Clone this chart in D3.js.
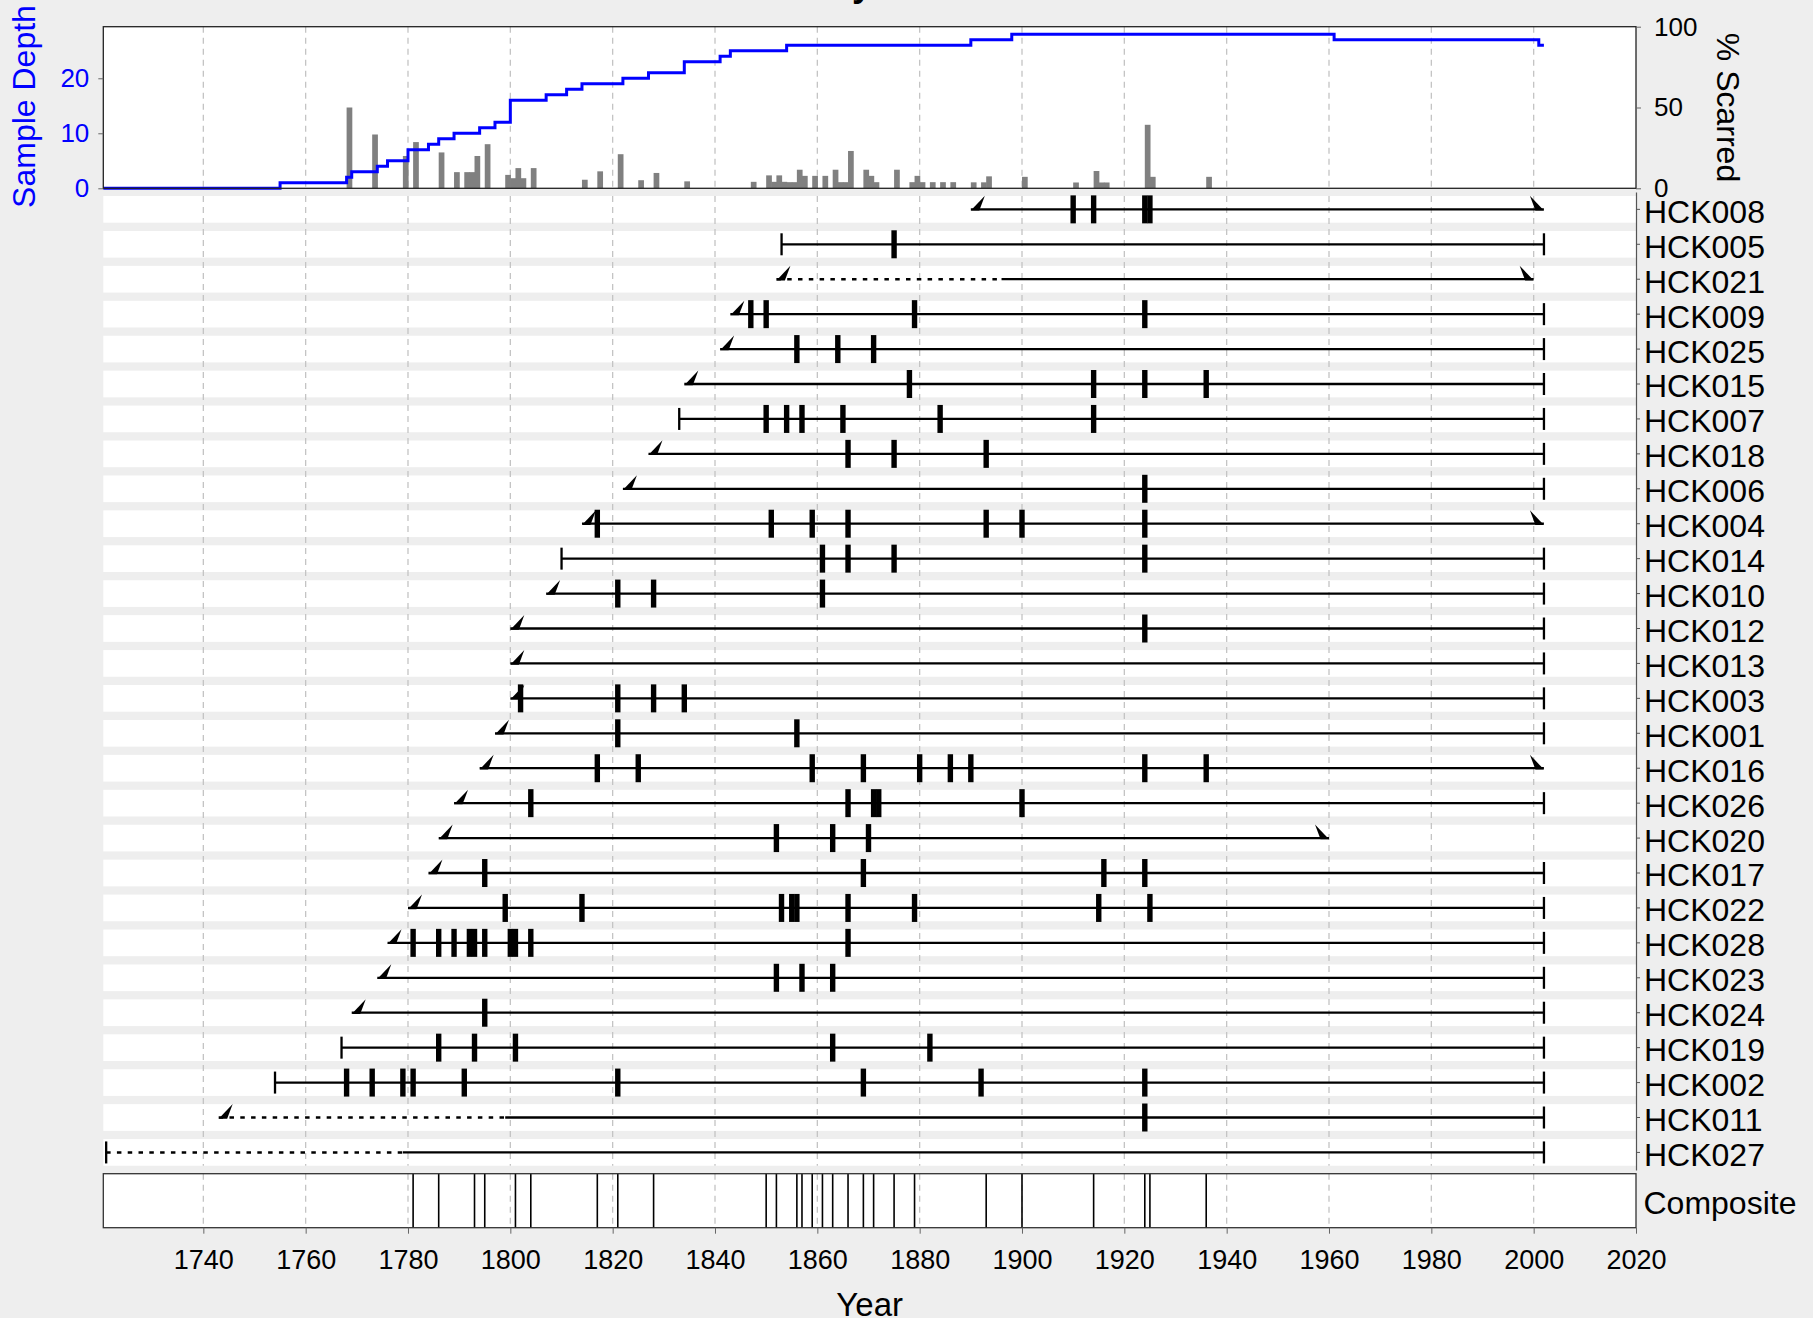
<!DOCTYPE html>
<html>
<head>
<meta charset="utf-8">
<script src="https://cdnjs.cloudflare.com/ajax/libs/d3/7.8.5/d3.min.js"></script>
<style>
  body { margin: 0; background: #eeeeee; }
  text { font-family: "Liberation Sans", Arial, sans-serif; }
</style>
</head>
<body>
<div id="chart"></div>
<script>
// series, top to bottom
var seriesNames = ["HCK008", "HCK005", "HCK021", "HCK009", "HCK025", "HCK015", "HCK007",
  "HCK018", "HCK006", "HCK004", "HCK014", "HCK010", "HCK012", "HCK013", "HCK003", "HCK001",
  "HCK016", "HCK026", "HCK020", "HCK017", "HCK022", "HCK028", "HCK023", "HCK024", "HCK019",
  "HCK002", "HCK011", "HCK027"];
var firstYears = [1890, 1853, 1852, 1843, 1841, 1834, 1833, 1827, 1822, 1814, 1810, 1807, 1800,
  1800, 1800, 1797, 1794, 1789, 1786, 1784, 1780, 1776, 1774, 1769, 1767, 1754, 1743, 1721];
var lastYears = [2002, 2002, 2000, 2002, 2002, 2002, 2002, 2002, 2002, 2002, 2002, 2002, 2002,
  2002, 2002, 2002, 2002, 2002, 1960, 2002, 2002, 2002, 2002, 2002, 2002, 2002, 2002, 2002];
// "slant" = pith / bark wedge, "bar" = inner / outer year
var firstTypes = ["slant", "bar", "slant", "slant", "slant", "slant", "bar", "slant", "slant",
  "slant", "bar", "slant", "slant", "slant", "slant", "slant", "slant", "slant", "slant", "slant",
  "slant", "slant", "slant", "slant", "bar", "bar", "slant", "bar"];
var lastTypes = ["slant", "bar", "slant", "bar", "bar", "bar", "bar", "bar", "bar", "slant", "bar",
  "bar", "bar", "bar", "bar", "bar", "slant", "bar", "slant", "bar", "bar", "bar", "bar", "bar",
  "bar", "bar", "bar", "bar"];
// end of the non-recording (dotted) part, null if none
var recorderStart = [null, null, 1896, null, null, null, null, null, null, null, null, null, null,
  null, null, null, null, null, null, null, null, null, null, null, null, null, 1799, 1779];
var scarYears = [
  [1910, 1914, 1924, 1925],
  [1875],
  [],
  [1847, 1850, 1879, 1924],
  [1856, 1864, 1871],
  [1878, 1914, 1924, 1936],
  [1850, 1854, 1857, 1865, 1884, 1914],
  [1866, 1875, 1893],
  [1924],
  [1817, 1851, 1859, 1866, 1893, 1900, 1924],
  [1861, 1866, 1875, 1924],
  [1821, 1828, 1861],
  [1924],
  [],
  [1802, 1821, 1828, 1834],
  [1821, 1856],
  [1817, 1825, 1859, 1869, 1880, 1886, 1890, 1924, 1936],
  [1804, 1866, 1871, 1872, 1900],
  [1852, 1863, 1870],
  [1795, 1869, 1916, 1924],
  [1799, 1814, 1853, 1855, 1856, 1866, 1879, 1915, 1925],
  [1781, 1786, 1789, 1792, 1793, 1795, 1800, 1801, 1804, 1866],
  [1852, 1857, 1863],
  [1795],
  [1786, 1793, 1801, 1863, 1882],
  [1768, 1773, 1779, 1781, 1791, 1821, 1869, 1892, 1924],
  [1924],
  []
];

// composite event years
var compositeYears = [1781, 1786, 1793, 1795, 1801, 1804, 1817, 1821, 1828, 1850, 1852, 1856,
  1857, 1859, 1861, 1863, 1866, 1869, 1871, 1875, 1879, 1893, 1900, 1914, 1924, 1925, 1936];

// sample depth steps (value holds from that year on)
var depthYears = [1721, 1755, 1768, 1769, 1774, 1776, 1780, 1784, 1786, 1789, 1794, 1797, 1800,
  1807, 1811, 1814, 1822, 1827, 1834, 1841, 1843, 1854, 1890, 1898, 1961, 2001, 2002];
var depthValues = [0, 1, 2, 3, 4, 5, 7, 8, 9, 10, 11, 12, 16, 17, 18, 19, 20, 21, 23, 24, 25, 26,
  27, 28, 27, 26, 26];

// percent scarred bars
var scarredYears = [1768, 1773, 1779, 1781, 1786, 1789, 1791, 1792, 1793, 1795, 1799, 1800, 1801,
  1802, 1804, 1814, 1817, 1821, 1825, 1828, 1834, 1847, 1850, 1851, 1852, 1853, 1854, 1855, 1856,
  1857, 1859, 1861, 1863, 1864, 1865, 1866, 1869, 1870, 1871, 1875, 1878, 1879, 1880, 1882, 1884,
  1886, 1890, 1892, 1893, 1900, 1910, 1914, 1915, 1916, 1924, 1925, 1936];
var scarredPct = [50, 33.3, 20, 28.6, 22.2, 10, 10, 10, 20, 27.3, 8.3, 6.25, 12.5, 6.25, 12.5, 5.3,
  10.5, 21.1, 5, 9.5, 4.3, 4, 8, 4, 8, 4, 3.8, 3.8, 11.5, 7.7, 7.7, 7.7, 11.5, 3.8, 3.8, 23.1, 11.5,
  7.7, 3.8, 11.5, 3.8, 7.7, 3.8, 3.8, 3.8, 3.8, 3.7, 3.7, 7.4, 7.1, 3.6, 10.7, 3.6, 3.6, 39.3, 7.1,
  7.1];

var yearTicks = d3.range(1740, 2021, 20);
var depthTicks = [0, 10, 20];
var pctTicks = [0, 50, 100];

// layout
var svgWidth = 1813;
var svgHeight = 1318;
var plotLeft = 103.3;
var plotRight = 1636;
var topPanel = { top: 26.7, bottom: 188.3 };
var ringPanel = { top: 191.9, bottom: 1169.9 };
var compPanel = { top: 1173.7, bottom: 1227.7 };

var svg = d3.select("#chart")
  .append("svg")
  .attr("width", svgWidth)
  .attr("height", svgHeight);

svg.append("rect")
  .attr("width", svgWidth)
  .attr("height", svgHeight)
  .attr("fill", "#eeeeee");

// Step 1: scales
var xScale = d3.scaleLinear()
  .domain([1720.45, 2020])
  .range([plotLeft, plotRight]);

var yDepth = d3.scaleLinear()
  .domain([0, 29.38])
  .range([topPanel.bottom, topPanel.top]);

var yPct = d3.scaleLinear()
  .domain([0, 100])
  .range([topPanel.bottom, topPanel.top]);

var yBand = d3.scaleBand()
  .domain(seriesNames)
  .range([ringPanel.top, ringPanel.bottom])
  .paddingInner(0.236)
  .paddingOuter(0.118);

function gridLines(g, y0, y1) {
  g.selectAll(null)
    .data(yearTicks.filter(d => d < 2020))
    .enter()
    .append("line")
    .attr("x1", d => xScale(d))
    .attr("x2", d => xScale(d))
    .attr("y1", y0)
    .attr("y2", y1)
    .attr("stroke", "#c4c4c4")
    .attr("stroke-width", 1.3)
    .attr("stroke-dasharray", "6,5");
}

// Step 2: title (mostly cut off at the top)
svg.append("text")
  .attr("x", 872)
  .attr("y", -4)
  .attr("text-anchor", "end")
  .attr("font-size", 36)
  .attr("font-weight", "bold")
  .text("Fire history");

// Step 3: top panel, sample depth + % scarred
var topGroup = svg.append("g");

topGroup.append("rect")
  .attr("x", plotLeft)
  .attr("y", topPanel.top)
  .attr("width", plotRight - plotLeft)
  .attr("height", topPanel.bottom - topPanel.top)
  .attr("fill", "white");

gridLines(topGroup, topPanel.top, topPanel.bottom);

topGroup.selectAll(null)
  .data(scarredYears)
  .enter()
  .append("rect")
  .attr("x", d => xScale(d))
  .attr("width", d => xScale(d + 1) - xScale(d) + 0.6)
  .attr("y", (d, i) => yPct(scarredPct[i]))
  .attr("height", (d, i) => topPanel.bottom - yPct(scarredPct[i]))
  .attr("fill", "#808080");

var depthData = depthYears.map((d, i) => ({ year: d, depth: depthValues[i] }));
depthData.unshift({ year: xScale.domain()[0], depth: depthValues[0] });

var depthLine = d3.line()
  .x(d => xScale(d.year))
  .y(d => yDepth(d.depth))
  .curve(d3.curveStepAfter);

topGroup.append("path")
  .datum(depthData)
  .attr("d", depthLine)
  .attr("fill", "none")
  .attr("stroke", "#0000ff")
  .attr("stroke-width", 3);

topGroup.append("rect")
  .attr("x", plotLeft)
  .attr("y", topPanel.top)
  .attr("width", plotRight - plotLeft)
  .attr("height", topPanel.bottom - topPanel.top)
  .attr("fill", "none")
  .attr("stroke", "#222")
  .attr("stroke-width", 1.3);

var leftAxis = d3.axisLeft(yDepth).tickValues(depthTicks).tickSize(5).tickPadding(9);
var leftG = topGroup.append("g")
  .attr("transform", `translate(${plotLeft}, 0)`)
  .call(leftAxis);
leftG.select(".domain").remove();
leftG.selectAll("line").attr("stroke", "#666");
leftG.selectAll("text")
  .attr("fill", "#0000ff")
  .attr("font-size", 26)
  .attr("font-family", "Liberation Sans, Arial, sans-serif");

var rightAxis = d3.axisRight(yPct).tickValues(pctTicks).tickSize(5).tickPadding(13);
var rightG = topGroup.append("g")
  .attr("transform", `translate(${plotRight}, 0)`)
  .call(rightAxis);
rightG.select(".domain").remove();
rightG.selectAll("line").attr("stroke", "#666");
rightG.selectAll("text")
  .attr("fill", "black")
  .attr("font-size", 26)
  .attr("font-family", "Liberation Sans, Arial, sans-serif");

svg.append("text")
  .attr("transform", `translate(35, ${(topPanel.top + topPanel.bottom) / 2 - 1}) rotate(-90)`)
  .attr("text-anchor", "middle")
  .attr("fill", "#0000ff")
  .attr("font-size", 32)
  .text("Sample Depth");

svg.append("text")
  .attr("transform", `translate(1717, ${(topPanel.top + topPanel.bottom) / 2}) rotate(90)`)
  .attr("text-anchor", "middle")
  .attr("fill", "black")
  .attr("font-size", 32)
  .text("% Scarred");

// Step 4: ring panel
var ringGroup = svg.append("g");

ringGroup.selectAll(null)
  .data(seriesNames)
  .enter()
  .append("rect")
  .attr("x", plotLeft)
  .attr("y", d => yBand(d))
  .attr("width", plotRight - plotLeft)
  .attr("height", yBand.bandwidth())
  .attr("fill", "white");

gridLines(ringGroup, yBand(seriesNames[0]), yBand(seriesNames[seriesNames.length - 1]) + yBand.bandwidth());

var bh = yBand.bandwidth() / 2;

seriesNames.forEach(function(name, i) {
  var yl = yBand(name) + bh;
  var x0 = xScale(firstYears[i]);
  var x1 = xScale(lastYears[i]);
  var xr = recorderStart[i] === null ? x0 : xScale(recorderStart[i]);

  if (recorderStart[i] !== null) {
    ringGroup.append("line")
      .attr("x1", x0).attr("x2", xr)
      .attr("y1", yl).attr("y2", yl)
      .attr("stroke", "black")
      .attr("stroke-width", 2.6)
      .attr("stroke-dasharray", "4.5,6.3");
  }
  ringGroup.append("line")
    .attr("x1", xr).attr("x2", x1)
    .attr("y1", yl).attr("y2", yl)
    .attr("stroke", "black")
    .attr("stroke-width", 2.3);

  // start glyph
  if (firstTypes[i] === "slant") {
    ringGroup.append("path")
      .attr("d", `M${x0},${yl + 1.2} L${x0 + 14},${yl - 13.5} L${x0 + 8.5},${yl + 1.2} Z`)
      .attr("fill", "black");
  } else {
    ringGroup.append("rect")
      .attr("x", x0 - 1.1).attr("width", 2.3)
      .attr("y", yl - 11).attr("height", 22)
      .attr("fill", "black");
  }
  // end glyph
  if (lastTypes[i] === "slant") {
    ringGroup.append("path")
      .attr("d", `M${x1},${yl + 1.2} L${x1 - 14},${yl - 13.5} L${x1 - 8.5},${yl + 1.2} Z`)
      .attr("fill", "black");
  } else {
    ringGroup.append("rect")
      .attr("x", x1 - 1.1).attr("width", 2.3)
      .attr("y", yl - 11).attr("height", 22)
      .attr("fill", "black");
  }

  // fire scars
  ringGroup.selectAll(null)
    .data(scarYears[i])
    .enter()
    .append("rect")
    .attr("x", d => xScale(d) - 2.7)
    .attr("width", 5.4)
    .attr("y", yl - 14)
    .attr("height", 28)
    .attr("fill", "black");
});

var labelAxis = d3.axisRight(yBand).tickSize(4).tickSizeOuter(0).tickPadding(4);
var labelG = ringGroup.append("g")
  .attr("transform", `translate(${plotRight}, 0)`)
  .call(labelAxis);
labelG.select(".domain").attr("stroke", "#555").attr("stroke-width", 1.2);
labelG.selectAll("line").attr("stroke", "#555");
labelG.selectAll("text")
  .attr("dy", "0.42em")
  .attr("fill", "black")
  .attr("font-size", 32)
  .attr("font-family", "Liberation Sans, Arial, sans-serif");

// Step 5: composite panel
var compGroup = svg.append("g");

compGroup.append("rect")
  .attr("x", plotLeft)
  .attr("y", compPanel.top)
  .attr("width", plotRight - plotLeft)
  .attr("height", compPanel.bottom - compPanel.top)
  .attr("fill", "white");

gridLines(compGroup, compPanel.top, compPanel.bottom);

compGroup.selectAll(null)
  .data(compositeYears)
  .enter()
  .append("line")
  .attr("x1", d => xScale(d))
  .attr("x2", d => xScale(d))
  .attr("y1", compPanel.top)
  .attr("y2", compPanel.bottom)
  .attr("stroke", "black")
  .attr("stroke-width", 1.6);

compGroup.append("rect")
  .attr("x", plotLeft)
  .attr("y", compPanel.top)
  .attr("width", plotRight - plotLeft)
  .attr("height", compPanel.bottom - compPanel.top)
  .attr("fill", "none")
  .attr("stroke", "#333")
  .attr("stroke-width", 1.3);

compGroup.append("text")
  .attr("x", plotRight + 7.5)
  .attr("y", 1214)
  .attr("font-size", 32)
  .text("Composite");

// Step 6: x axis
var bottomAxis = d3.axisBottom(xScale).tickValues(yearTicks).tickSize(6).tickPadding(16)
  .tickFormat(d3.format("d"));
var xG = svg.append("g")
  .attr("transform", `translate(0, ${compPanel.bottom})`)
  .call(bottomAxis);
xG.select(".domain").remove();
xG.selectAll("line").attr("stroke", "#666");
xG.selectAll("text")
  .attr("fill", "black")
  .attr("font-size", 27)
  .attr("font-family", "Liberation Sans, Arial, sans-serif");

svg.append("text")
  .attr("x", (plotLeft + plotRight) / 2)
  .attr("y", 1315.5)
  .attr("text-anchor", "middle")
  .attr("font-size", 33)
  .text("Year");
</script>
</body>
</html>
